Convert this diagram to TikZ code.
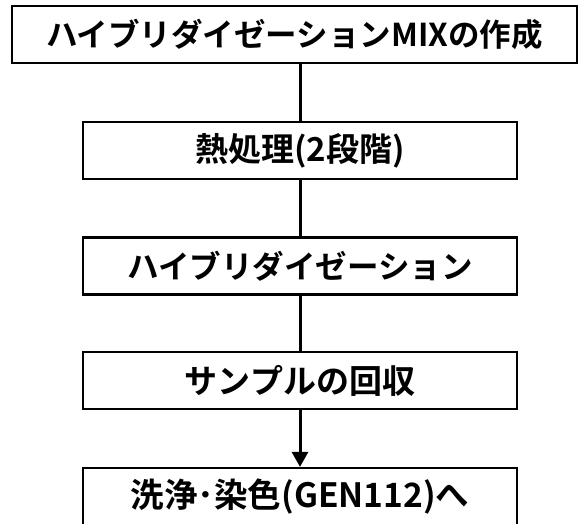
\documentclass[tikz,border=0pt]{standalone}
\usepackage{fontspec}
\setmainfont{Noto Sans CJK JP}[BoldFont={Noto Sans CJK JP Bold}]
\usetikzlibrary{arrows.meta}
\begin{document}
\begin{tikzpicture}[x=1pt,y=-1pt,
  stepbox/.style={draw=black,line width=2.2pt,minimum height=57pt,inner sep=0pt},
  fs/.style={font=\fontsize{#1}{#1}\selectfont\bfseries},
  conn/.style={draw=black,line width=3pt}]
\useasboundingbox (0,0) rectangle (582,524);
\node[stepbox,fs=31.5,minimum width=565pt] (A) at (294.5,34.5) {\raisebox{-3pt}{ハイブリダイゼーションMIXの作成}};
\node[stepbox,fs=33,minimum width=434pt] (B) at (300,150.5) {\raisebox{-2pt}{熱処理(2段階)}};
\node[stepbox,fs=31.5,minimum width=434pt] (C) at (300,266) {\raisebox{-3pt}{ハイブリダイゼーション}};
\node[stepbox,fs=33,minimum width=434pt] (D) at (300,380.5) {\raisebox{-3pt}{サンプルの回収}};
\node[stepbox,fs=33.5,minimum width=434pt] (E) at (300,496.5) {\raisebox{-2pt}{洗浄･染色(GEN112)へ}};
\draw[conn] (B.north) -- (B.north |- A.south);
\draw[conn] (B.south) -- (C.north);
\draw[conn] (C.south) -- (D.north);
\draw[conn,-{Triangle[width=16pt,length=15pt]}] (D.south) -- (E.north);
\end{tikzpicture}
\end{document}
